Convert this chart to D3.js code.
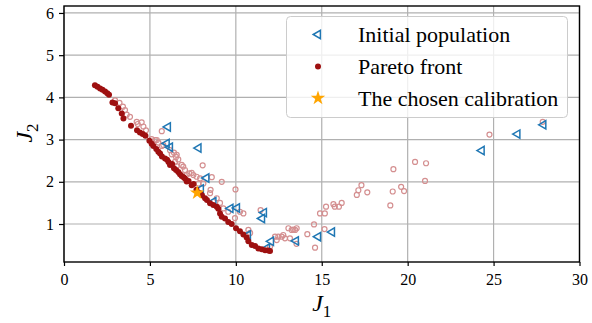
<!DOCTYPE html>
<html><head><meta charset="utf-8">
<script src="https://cdn.jsdelivr.net/npm/d3@7"></script>
<style>body{margin:0;background:#fff}svg{display:block}</style>
</head><body>
<svg id="c" width="592" height="323"></svg>
<script>
const xTicks=[0,5,10,15,20,25,30];
const yTicks=[1,2,3,4,5,6];
const legendLabels=["Initial population","Pareto front","The chosen calibration"];

// explored population (open pink circles)
const histJ1=[2.97,3.23,3.43,3.55,3.65,3.84,4.23,4.29,4.52,4.62,4.77,5.10,5.30,5.40,5.49,5.69,5.69,5.78,6.17,6.27,6.40,6.56,6.52,6.65,6.46,6.85,6.56,6.94,8.07,7.04,7.14,7.29,7.53,7.43,7.72,7.92,8.60,9.18,7.82,8.11,8.53,9.98,8.50,8.89,9.08,9.27,9.56,9.95,10.24,10.44,11.44,10.73,10.83,11.99,12.28,12.38,12.47,12.67,12.76,12.86,13.06,13.15,13.25,13.35,13.54,13.45,13.53,14.16,14.55,14.61,15.16,14.90,15.18,15.25,15.68,15.76,16.00,16.16,17.04,17.13,17.31,17.65,18.99,19.13,19.62,19.79,19.17,20.43,21.07,21.01,24.76,27.86];
const histJ2=[3.93,3.87,3.78,3.70,3.59,3.54,3.42,3.37,3.41,3.31,3.22,3.01,2.99,2.99,2.93,3.20,2.85,2.87,2.75,2.65,2.69,2.64,2.59,2.53,2.47,2.40,2.37,2.36,2.39,2.28,2.16,2.20,2.16,2.21,2.12,2.08,2.11,2.00,1.96,1.96,1.81,1.82,1.73,1.61,1.50,1.37,1.29,1.14,1.29,1.25,1.33,0.86,0.79,0.46,0.70,0.62,0.70,0.70,0.74,0.66,0.90,0.66,0.86,0.87,0.90,0.86,0.53,0.76,0.99,0.44,0.88,1.25,1.25,1.41,1.47,1.41,1.41,1.50,1.69,1.80,1.92,1.75,1.44,1.77,1.88,1.78,2.30,2.47,2.44,2.02,3.12,3.42];

// initial population (blue left triangles)
const initJ1=[6.05,5.98,6.17,7.83,8.29,7.97,8.70,9.69,10.07,11.64,11.53,10.71,12.05,11.82,13.50,14.79,15.60,24.31,26.39,27.90];
const initJ2=[3.30,2.91,2.82,2.80,2.09,1.83,1.53,1.37,1.38,1.27,1.13,0.74,0.59,0.43,0.60,0.70,0.81,2.74,3.13,3.35];

// Pareto front (dark red dots)
const paretoJ1=[1.80,1.95,2.10,2.24,2.39,2.52,2.62,2.82,2.97,3.16,3.36,3.46,3.90,4.25,4.42,4.58,4.74,4.97,5.10,5.20,5.37,5.49,5.59,5.70,5.88,6.00,6.08,6.17,6.29,6.40,6.52,6.65,6.75,6.85,6.96,7.04,7.14,7.25,7.43,7.54,7.71,7.92,8.03,8.21,8.32,8.50,8.69,8.89,8.98,9.08,9.18,9.37,9.56,9.76,10.01,10.24,10.44,10.63,10.73,10.93,11.12,11.31,11.51,11.70,11.89,11.99];
const paretoJ2=[4.29,4.25,4.21,4.18,4.14,4.10,4.06,3.88,3.86,3.74,3.62,3.50,3.33,3.22,3.17,3.13,3.09,2.97,2.90,2.85,2.78,2.71,2.67,2.60,2.55,2.52,2.47,2.40,2.42,2.32,2.28,2.23,2.18,2.14,2.11,2.08,2.01,2.02,1.92,1.95,1.81,1.73,1.68,1.61,1.57,1.49,1.45,1.41,1.36,1.25,1.17,1.13,1.05,1.00,0.90,0.83,0.75,0.68,0.59,0.50,0.48,0.42,0.40,0.38,0.37,0.36];

const chosenJ1=[7.75];
const chosenJ2=[1.74];

const W=592,H=323;
const m={l:64,r:579.5,t:6,b:262};
const x=d3.scaleLinear().domain([0,30]).range([m.l,m.r]);
const y=d3.scaleLinear().domain([0.1,6.165]).range([m.b,m.t]);
const svg=d3.select("#c");
const font="'Liberation Serif','Times New Roman',serif";

// grid
const g=svg.append("g");
g.selectAll("line.gx").data(xTicks).enter().append("line")
 .attr("x1",d=>x(d)).attr("x2",d=>x(d)).attr("y1",m.t).attr("y2",m.b)
 .attr("stroke","#b0b0b0").attr("stroke-width",1.2);
g.selectAll("line.gy").data(yTicks).enter().append("line")
 .attr("x1",m.l).attr("x2",m.r).attr("y1",d=>y(d)).attr("y2",d=>y(d))
 .attr("stroke","#b0b0b0").attr("stroke-width",1.2);

// axes
const xa=svg.append("g").attr("transform",`translate(0,${m.b})`)
 .call(d3.axisBottom(x).tickValues(xTicks).tickSize(4).tickPadding(7.5).tickFormat(d3.format("d")));
const ya=svg.append("g").attr("transform",`translate(${m.l},0)`)
 .call(d3.axisLeft(y).tickValues(yTicks).tickSize(5).tickPadding(5).tickFormat(d3.format("d")));
[xa,ya].forEach(a=>{a.attr("font-family",font);a.select(".domain").remove();
 a.selectAll(".tick line").attr("stroke","#000").attr("stroke-width",1.2);
 a.selectAll(".tick text").style("font-family",font).attr("font-size",16).attr("fill","#000");});

const plot=svg.append("g");
// history circles
plot.selectAll("circle.h").data(histJ1).enter().append("circle")
 .attr("cx",d=>x(d)).attr("cy",(d,i)=>y(histJ2[i])).attr("r",2.5)
 .attr("fill","none").attr("stroke","#d48f90").attr("stroke-width",1.2);
// initial triangles (pointing left)
const tri=d3.symbol().type(d3.symbolTriangle).size(30);
plot.selectAll("path.i").data(initJ1).enter().append("path")
 .attr("d",tri).attr("transform",(d,i)=>`translate(${x(d)},${y(initJ2[i])}) rotate(-90)`)
 .attr("fill","none").attr("stroke","#1f77b4").attr("stroke-width",1.5);
// pareto
plot.selectAll("circle.p").data(paretoJ1).enter().append("circle")
 .attr("cx",d=>x(d)).attr("cy",(d,i)=>y(paretoJ2[i])).attr("r",3)
 .attr("fill","#9e1010");
// chosen
const star=d3.symbol().type(d3.symbolStar).size(65);
plot.selectAll("path.s").data(chosenJ1).enter().append("path")
 .attr("d",star).attr("transform",(d,i)=>`translate(${x(d)},${y(chosenJ2[i])})`)
 .attr("fill","#ffa500");

// frame
svg.append("rect").attr("x",m.l).attr("y",m.t).attr("width",m.r-m.l).attr("height",m.b-m.t)
 .attr("fill","none").attr("stroke","#000").attr("stroke-width",1.4);

// axis labels
const xl=svg.append("text").attr("x",(m.l+m.r)/2).attr("y",311).attr("text-anchor","middle")
 .attr("font-family",font).attr("font-size",24);
xl.append("tspan").attr("font-style","italic").text("J");
xl.append("tspan").attr("font-size",17).attr("dy",6).text("1");
const yl=svg.append("text").attr("transform",`translate(32,133) rotate(-90)`).attr("text-anchor","middle")
 .attr("font-family",font).attr("font-size",24);
yl.append("tspan").attr("font-style","italic").text("J");
yl.append("tspan").attr("font-size",17).attr("dy",6).text("2");

// legend
const lg=svg.append("g");
lg.append("rect").attr("x",286.5).attr("y",16.5).attr("width",281).attr("height",101).attr("rx",4)
 .attr("fill","#fff").attr("fill-opacity",0.8).attr("stroke","#cccccc").attr("stroke-width",1);
const rows=[34.5,66.5,98];
lg.append("path").attr("d",tri).attr("transform",`translate(318,${rows[0]}) rotate(-90)`)
 .attr("fill","none").attr("stroke","#1f77b4").attr("stroke-width",1.5);
lg.append("circle").attr("cx",318).attr("cy",rows[1]).attr("r",3).attr("fill","#9e1010");
lg.append("path").attr("d",star).attr("transform",`translate(318,${rows[2]})`).attr("fill","#ffa500");
lg.selectAll("text").data(legendLabels).enter().append("text")
 .attr("x",358).attr("y",(d,i)=>rows[i]+7.5).attr("font-family",font).attr("font-size",22)
 .attr("fill","#000").text(d=>d);
</script>
</body></html>
